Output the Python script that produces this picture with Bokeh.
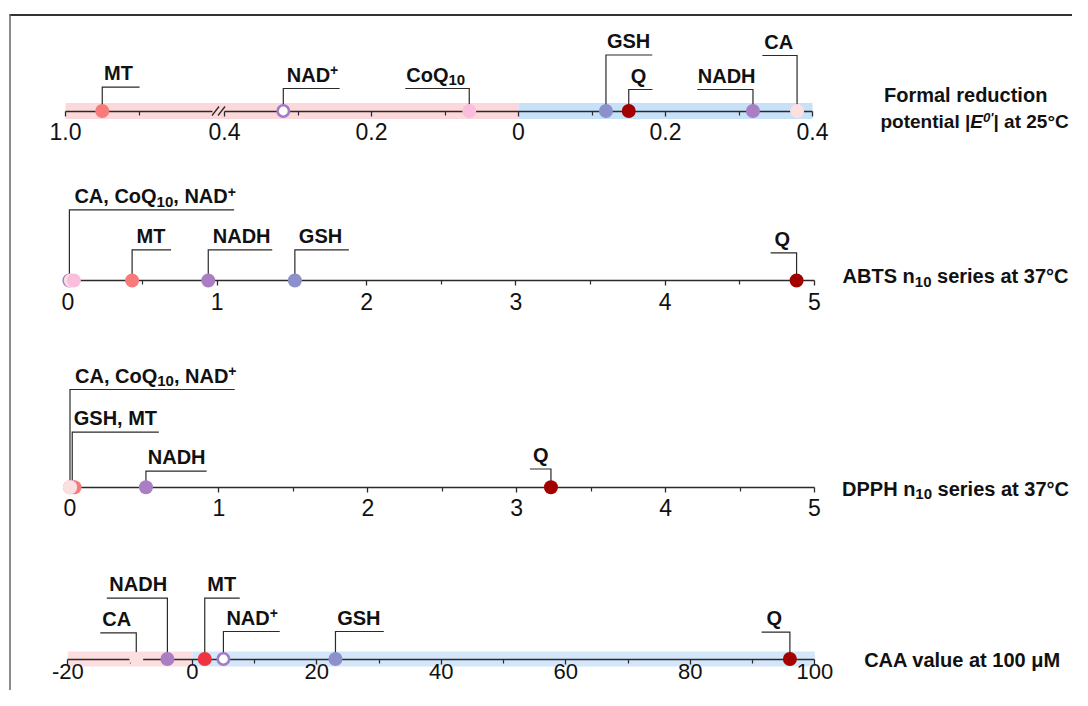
from bokeh.plotting import figure
from bokeh.models import Range1d, LinearAxis, FixedTicker
from bokeh.core.properties import value
from bokeh.embed import file_html
from bokeh.resources import INLINE

# ---------------- data ----------------
compounds = ["MT", "NAD+", "CoQ10", "GSH", "Q", "NADH", "CA"]
# formal reduction potential E0' (V); negative values are drawn on the left (pink) half
e0_potential = [-0.95, -0.32, -0.067, 0.119, 0.150, 0.319, 0.379]
abts_n10 = [0.43, 0.01, 0.04, 1.52, 4.88, 0.94, 0.02]
dpph_n10 = [0.03, 0.00, 0.00, 0.015, 3.23, 0.51, 0.00]
caa_value = [2.0, 5.0, None, 23.0, 96.0, -4.0, -9.0]

pot_major = [-1.0, -0.4, -0.2, 0.0, 0.2, 0.4]
pot_labels = ["1.0", "0.4", "0.2", "0", "0.2", "0.4"]
pot_minor = [-0.9, -0.3, -0.1, 0.1, 0.3]
n10_major = [0, 1, 2, 3, 4, 5]
n10_labels = ["0", "1", "2", "3", "4", "5"]
n10_minor = [0.5, 1.5, 2.5, 3.5, 4.5]
caa_major = [-20, 0, 20, 40, 60, 80, 100]
caa_labels = ["-20", "0", "20", "40", "60", "80", "100"]
caa_minor = [-10, 10, 30, 50, 70, 90]

# ---------------- styles / layout ----------------
W, H, MARGIN = 1072, 690, 0
FONT = value("Liberation Sans")
TXT = "#111111"
LINE = "#2a2a2a"
COLORS = {"MT": "#F77B7B", "NAD+": "#A47BC6", "CoQ10": "#F9BEDC", "GSH": "#8C91CC",
          "Q": "#A30000", "NADH": "#A97EC2", "CA": "#FCE0E0"}
CAA_COLORS = dict(COLORS, MT="#EF3340")
HOLLOW = {"NAD+"}
PINK, BLUE = "#FDD8DB", "#C7E1F8"
PINK2, BLUE2 = "#FCDDE0", "#D3E6FA"

LABELS = {
    "MT": [("MT", "n")],
    "NAD+": [("NAD", "n"), ("+", "sup")],
    "CoQ10": [("CoQ", "n"), ("10", "sub")],
    "GSH": [("GSH", "n")],
    "Q": [("Q", "n")],
    "NADH": [("NADH", "n")],
    "CA": [("CA", "n")],
    "grp3": [("CA, CoQ", "n"), ("10", "sub"), (", NAD", "n"), ("+", "sup")],
    "GSH, MT": [("GSH, MT", "n")],
}

AB = {' ': 278, ',': 278, '+': 584, '|': 280, '°': 400, "'": 238, 'A': 722, 'B': 722, 'C': 722,
      'D': 722, 'E': 667, 'F': 611, 'G': 778, 'H': 722, 'M': 833, 'N': 722, 'P': 667, 'Q': 778,
      'S': 667, 'T': 611, 'V': 667, 'a': 556, 'c': 556, 'd': 611, 'e': 556, 'i': 278, 'l': 278,
      'm': 889, 'n': 611, 'o': 611, 'p': 611, 'r': 389, 's': 556, 't': 333, 'u': 611, 'v': 556,
      'μ': 611}
SIZES = {"n": 20, "i": 20, "sub": 15, "sup": 14, "supi": 14}
YOFF = {"n": 0, "i": 0, "sub": 4, "sup": -6.5, "supi": -7}
BASE_FIX = 0.375  # empirical: alphabetic baseline lands this many ems lower


def cy(page_y):
    return page_y - MARGIN


def make_range(v0, px0, v1, px1):
    ppu = (px1 - px0) / (v1 - v0)
    start = v0 - (px0 - MARGIN) / ppu
    return Range1d(start=start, end=start + W / ppu), ppu


GAP = 0.0163


def pot_u(e):
    a = abs(e)
    if e < 0:
        return -a if a <= 0.4 + 1e-9 else -(0.4 + GAP + (a - 0.8))
    return e


r_pot, ppu_pot = make_range(0.0, 518.0, 0.4, 812.0)
r_abts, ppu_abts = make_range(0.0, 67.4, 5.0, 814.0)
r_dpph, ppu_dpph = make_range(0.0, 69.5, 5.0, 814.0)
r_caa, ppu_caa = make_range(-20.0, 67.3, 100.0, 814.3)
PPU = {"pot": ppu_pot, "abts": ppu_abts, "dpph": ppu_dpph, "caa": ppu_caa, "default": 1.0}
AXY = {"pot": 110.5, "abts": 280.0, "dpph": 486.7, "caa": 658.5}

p = figure(width=W, height=H, x_range=Range1d(0, W), y_range=Range1d(H, 0),
           x_axis_location=None, y_axis_location=None, toolbar_location=None,
           output_backend="svg", min_border=0, outline_line_color=None,
           background_fill_color="white", border_fill_color="white")
p.xgrid.grid_line_color = None
p.ygrid.grid_line_color = None
p.extra_x_ranges = {"pot": r_pot, "abts": r_abts, "dpph": r_dpph, "caa": r_caa}


def add_axis(rname, major, labels, minor, bounds, standoff=7, fsize="23px"):
    ax = LinearAxis(x_range_name=rname, fixed_location=cy(AXY[rname]),
                    ticker=FixedTicker(ticks=list(major), minor_ticks=list(minor)),
                    bounds=bounds,
                    major_label_overrides={m: l for m, l in zip(major, labels)},
                    axis_line_color=LINE, axis_line_width=1.3,
                    major_tick_line_color=LINE, major_tick_line_width=1.3,
                    minor_tick_line_color=LINE, minor_tick_line_width=1.2,
                    major_tick_in=0, major_tick_out=5, minor_tick_in=0, minor_tick_out=4,
                    major_label_standoff=standoff,
                    major_label_text_font=FONT.value, major_label_text_font_size=fsize,
                    major_label_text_color=TXT)
    ax.level = "underlay"
    p.add_layout(ax, "below")


def band(rname, x0, x1, color, h=15):
    y = cy(AXY[rname])
    r = p.quad(left=[x0], right=[x1], top=[y - h / 2], bottom=[y + h / 2],
               fill_color=color, line_color=None, x_range_name=rname)
    r.level = "image"


def seg_width(text, kind, scale=1.0):
    return sum(AB.get(ch, 556) for ch in text) * SIZES[kind] * scale / 1000.0


def rich_text(rname, x, y, segs, dx=0.0, align="left", scale=1.0):
    total = sum(seg_width(t, k, scale) for t, k in segs)
    cur = dx - (total / 2 if align == "center" else 0)
    for t, k in segs:
        lead = t[:len(t) - len(t.lstrip())]
        body = t.strip()
        if body:
            p.text(x=[x], y=[y - BASE_FIX * SIZES[k] * scale], text=[body],
                   x_offset=cur + seg_width(lead, k, scale), y_offset=YOFF[k] * scale,
                   text_font=FONT,
                   text_font_style="bold italic" if k in ("i", "supi") else "bold",
                   text_font_size=value(f"{SIZES[k] * scale:.1f}px"), text_color=TXT,
                   text_align="left", text_baseline="alphabetic", x_range_name=rname)
        cur += seg_width(t, k, scale)


def callout(rname, xa, level, direction, hlen, label, dx):
    y_ax = cy(AXY[rname])
    lv = cy(level)
    d = hlen / PPU[rname]
    if direction == "r":
        xs = [xa, xa, xa + d]
        ys = [y_ax, lv, lv]
        tx = xa
    else:
        xs = [xa - d, xa, xa]
        ys = [lv, lv, y_ax]
        tx = xa - d
    p.line(xs, ys, line_color=LINE, line_width=1.2, line_join="miter", x_range_name=rname)
    rich_text(rname, tx, lv - 6.5, LABELS[label], dx=dx)


def points(rname, xs_by_name, order, colors):
    y = cy(AXY[rname])
    for name in order:
        xv = xs_by_name.get(name)
        if xv is None:
            continue
        if name in HOLLOW:
            p.scatter([xv], [y], size=11.4, marker="circle", fill_color="white",
                      line_color=colors[name], line_width=2.6, x_range_name=rname)
        else:
            p.scatter([xv], [y], size=14, marker="circle", fill_color=colors[name],
                      line_color=None, x_range_name=rname)


# ---------------- outer frame (top and left edges) ----------------
p.line([9, W], [cy(14.5), cy(14.5)], line_color="#333333", line_width=2)
p.line([9.5, 9.5], [cy(14), H], line_color="#666666", line_width=1.5)

# ---------------- panel 1: formal reduction potential ----------------
pot_x = {c: pot_u(v) for c, v in zip(compounds, e0_potential)}
band("pot", pot_u(-1.0), 0.0, PINK, 16)
band("pot", 0.0, 0.4, BLUE, 16)
add_axis("pot", [pot_u(pot_major[0])], [pot_labels[0]], [pot_u(pot_minor[0])],
         (pot_u(-1.0), pot_u(-0.8)))
add_axis("pot", [pot_u(v) for v in pot_major[1:]], pot_labels[1:],
         [pot_u(v) for v in pot_minor[1:]], (pot_u(-0.4), 0.4))
# axis-break marks
yb = cy(AXY["pot"])
for off in (-3.0, 3.0):
    xb = pot_u(-0.8) + (6.0 + off) / ppu_pot
    p.line([xb - 3.5 / ppu_pot, xb + 3.5 / ppu_pot], [yb + 4.5, yb - 4.5],
           line_color=LINE, line_width=1.3, x_range_name="pot")

for name, direc, lvl, hl, dx in [("MT", "r", 86.7, 37.3, 1.8), ("NAD+", "r", 88.0, 56.3, 3.5),
                                 ("CoQ10", "l", 88.0, 64.0, 1.0), ("GSH", "r", 54.5, 46.3, 1.0),
                                 ("Q", "r", 89.0, 23.7, 2.0), ("NADH", "l", 89.0, 55.7, 0.5),
                                 ("CA", "l", 55.0, 34.7, 2.0)]:
    callout("pot", pot_x[name], lvl, direc, hl, name, dx)
points("pot", pot_x, compounds, COLORS)
rich_text("default", 883.5, cy(101.7), [("Formal reduction", "n")])
rich_text("default", 880.0, cy(128.3), [("potential |", "n"), ("E", "i"), ("0'", "supi"),
                                        ("| at 25°C", "n")], scale=0.95)

# ---------------- panel 2: ABTS ----------------
abts_x = dict(zip(compounds, abts_n10))
add_axis("abts", n10_major, n10_labels, n10_minor, (0, 5))
callout("abts", abts_x["NAD+"], 209.3, "r", 164.7, "grp3", 5.0)
for name, direc, lvl, hl, dx in [("MT", "r", 249.3, 39.0, 4.5), ("NADH", "r", 249.3, 64.0, 4.5),
                                 ("GSH", "r", 249.3, 54.0, 4.0), ("Q", "l", 252.3, 26.0, 4.0)]:
    callout("abts", abts_x[name], lvl, direc, hl, name, dx)
points("abts", abts_x, ["NAD+", "CA", "CoQ10", "MT", "NADH", "GSH", "Q"], COLORS)
rich_text("default", 955.0, cy(283.3), [("ABTS n", "n"), ("10", "sub"), (" series at 37°C", "n")],
          align="center")

# ---------------- panel 3: DPPH ----------------
dpph_x = dict(zip(compounds, dpph_n10))
add_axis("dpph", n10_major, n10_labels, n10_minor, (0, 5))
callout("dpph", dpph_x["CA"], 389.0, "r", 164.7, "grp3", 5.0)
callout("dpph", dpph_x["GSH"], 431.7, "r", 86.6, "GSH, MT", 1.5)
callout("dpph", dpph_x["NADH"], 470.7, "r", 60.7, "NADH", 1.8)
callout("dpph", dpph_x["Q"], 468.5, "l", 21.0, "Q", 3.0)
points("dpph", dpph_x, ["GSH", "MT", "NAD+", "CoQ10", "CA", "NADH", "Q"], COLORS)
rich_text("default", 955.0, cy(495.5), [("DPPH n", "n"), ("10", "sub"), (" series at 37°C", "n")],
          align="center")

# ---------------- panel 4: CAA ----------------
caa_x = dict(zip(compounds, caa_value))
band("caa", -20, 0, PINK2, 15)
band("caa", 0, 100, BLUE2, 15)
add_axis("caa", caa_major, caa_labels, caa_minor, (-20, 100), standoff=0, fsize="22px")
for name, direc, lvl, hl, dx in [("CA", "l", 632.3, 36.0, 2.0), ("NADH", "l", 597.7, 60.6, 2.5),
                                 ("MT", "r", 597.7, 35.0, 2.5), ("NAD+", "r", 631.0, 56.3, 3.0),
                                 ("GSH", "r", 631.0, 48.3, 1.7), ("Q", "l", 631.7, 28.3, 5.0)]:
    callout("caa", caa_x[name], lvl, direc, hl, name, dx)
points("caa", caa_x, ["CA", "NADH", "MT", "NAD+", "GSH", "Q"], CAA_COLORS)
rich_text("default", 962.0, cy(667.0), [("CAA value at 100 μM", "n")], align="center")

open("out.html", "w").write(file_html(p, INLINE))
